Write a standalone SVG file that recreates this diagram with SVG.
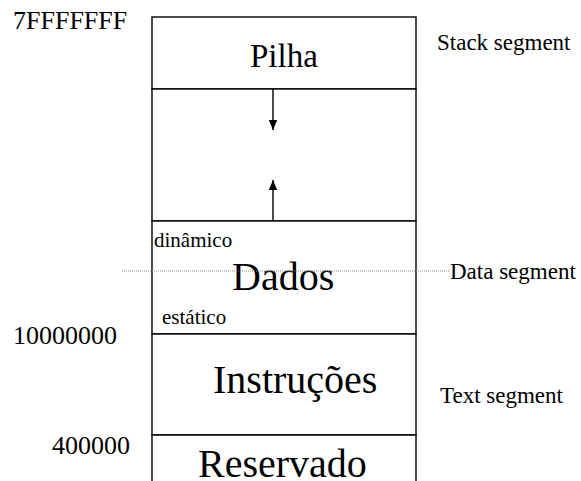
<svg xmlns="http://www.w3.org/2000/svg" width="581" height="481" viewBox="0 0 581 481">
  <defs>
    <marker id="head" viewBox="0 0 10 12" refX="12" refY="5" markerWidth="12" markerHeight="10" markerUnits="userSpaceOnUse" orient="auto">
      <path d="M0,0 L12,5 L0,10 z" fill="#000"/>
    </marker>
  </defs>
  <style>
    .box { fill: #fff; stroke: #000; stroke-width: 1.4; }
    .addr { font-size: 26px; }
    .seg { font-size: 23px; }
    .big { font-size: 40px; }
    .small { font-size: 21px; }
    .arrow { stroke: #000; stroke-width: 1.4; fill: none; marker-end: url(#head); }
  </style>
  <rect width="581" height="481" fill="#fff"/>

  <g font-family="'Liberation Serif', 'Times New Roman', serif" fill="#000">
    <!-- address labels -->
    <text class="addr" x="13" y="29">7FFFFFFF</text>
    <text class="addr" x="13" y="344">10000000</text>
    <text class="addr" x="52" y="454">400000</text>

    <!-- memory regions -->
    <g id="pilha">
      <rect class="box" x="152" y="17" width="264" height="72"/>
      <text x="250" y="67" font-size="33">Pilha</text>
    </g>
    <g id="livre">
      <rect class="box" x="152" y="89" width="264" height="132"/>
    </g>
    <g id="dados">
      <rect class="box" x="152" y="221" width="264" height="113"/>
      <text class="small" x="154" y="247">dinâmico</text>
      <text class="big" x="232" y="290">Dados</text>
      <text class="small" x="162" y="324">estático</text>
    </g>
    <g id="instrucoes">
      <rect class="box" x="152" y="334" width="264" height="101"/>
      <text class="big" x="213" y="393">Instruções</text>
    </g>
    <g id="reservado">
      <path class="box" d="M152,490 V435 H416 V490"/>
      <text class="big" x="198" y="477">Reservado</text>
    </g>

    <!-- segment labels -->
    <text class="seg" x="437" y="50">Stack segment</text>
    <text class="seg" x="450" y="279">Data segment</text>
    <text class="seg" x="440" y="403">Text segment</text>
  </g>

  <!-- connectors -->
  <g id="connectors">
    <line class="arrow" x1="273" y1="89" x2="273" y2="130"/>
    <line class="arrow" x1="273" y1="221" x2="273" y2="180"/>
    <line x1="122" y1="271" x2="450" y2="271" stroke="#888" stroke-width="1" stroke-dasharray="1,1"/>
  </g>
</svg>
